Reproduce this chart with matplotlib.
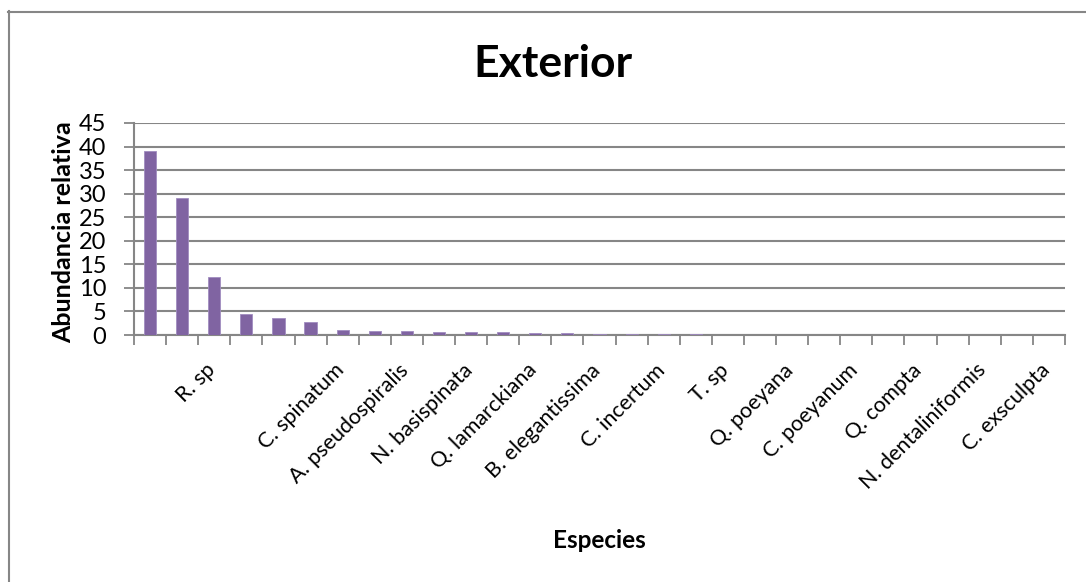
import numpy as np
import matplotlib
matplotlib.use('Agg')
import matplotlib.pyplot as plt
import matplotlib.transforms as mtransforms
from matplotlib.lines import Line2D

plt.rcParams['font.family'] = ['Lato', 'DejaVu Sans']

# Species (only every other label is shown in the original chart)
species = ['', '', 'R. sp', '', '', '', 'C. spinatum', '', 'A. pseudospiralis', '',
           'N. basispinata', '', 'Q. lamarckiana', '', 'B. elegantissima', '',
           'C. incertum', '', 'T. sp', '', 'Q. poeyana', '', 'C. poeyanum', '',
           'Q. compta', '', 'N. dentaliniformis', '', 'C. exsculpta']
abundancia = [39, 29, 12.4, 4.5, 3.6, 2.8, 1.1, 0.95, 0.85, 0.7,
              0.65, 0.55, 0.4, 0.35, 0.3, 0.25, 0.2, 0.15, 0.1, 0.05,
              0.05, 0.03, 0.03, 0.02, 0.02, 0.02, 0.01, 0.01, 0.01]
yticks = [0, 5, 10, 15, 20, 25, 30, 35, 40, 45]

W, H = 1086, 582
fig = plt.figure(figsize=(W / 100, H / 100), dpi=100)
ax = fig.add_axes([134 / W, 1 - 335 / H, 931 / W, 212 / H])

grid_col = '#868686'
x = np.arange(len(species))
ax.bar(x, abundancia, width=0.38, color='#8064A2', edgecolor='#a08cc0',
       linewidth=0.6, zorder=3)

ax.set_xlim(-0.5, len(species) - 0.5)
ax.set_ylim(0, 45)
ax.set_yticks(yticks)
ax.yaxis.grid(True, color=grid_col, linewidth=1.5, zorder=0)
ax.tick_params(axis='y', labelsize=17, length=7, width=1.3, color=grid_col, pad=13)

# category labels at centers, tick marks at boundaries
ax.set_xticks(x)
ax.set_xticklabels(species, rotation=45, ha='right', va='top',
                   rotation_mode='anchor', fontsize=15.5)
ax.tick_params(axis='x', which='major', length=0, pad=18)
ax.set_xticks(np.arange(-0.5, len(species), 1), minor=True)
ax.tick_params(axis='x', which='minor', length=7, width=1.3, color=grid_col)
shift = mtransforms.ScaledTranslation(-9 / 100, 0, fig.dpi_scale_trans)
for lbl in ax.get_xticklabels():
    lbl.set_transform(lbl.get_transform() + shift)

for s in ['top', 'right']:
    ax.spines[s].set_visible(False)
for s in ['left', 'bottom']:
    ax.spines[s].set_color(grid_col)
    ax.spines[s].set_linewidth(1.5)

fig.text(64 / W, 1 - 232 / H, 'Abundancia relativa', fontsize=18, fontweight='bold',
         rotation=90, ha='center', va='center')

fig.text(553 / W, 1 - 77 / H, 'Exterior', fontsize=32, fontweight='bold',
         ha='center', va='baseline')
fig.text(599 / W, 1 - 540 / H, 'Especies', fontsize=17.5, fontweight='bold',
         ha='center', va='center')

# chart area border (left and top visible)
fig.add_artist(Line2D([8.5 / W, 8.5 / W], [0, 1 - 11 / H], color=grid_col, linewidth=1.5))
fig.add_artist(Line2D([8 / W, 1], [1 - 11.5 / H, 1 - 11.5 / H], color=grid_col, linewidth=1.5))

fig.savefig('out.png', dpi=100, facecolor='white')
